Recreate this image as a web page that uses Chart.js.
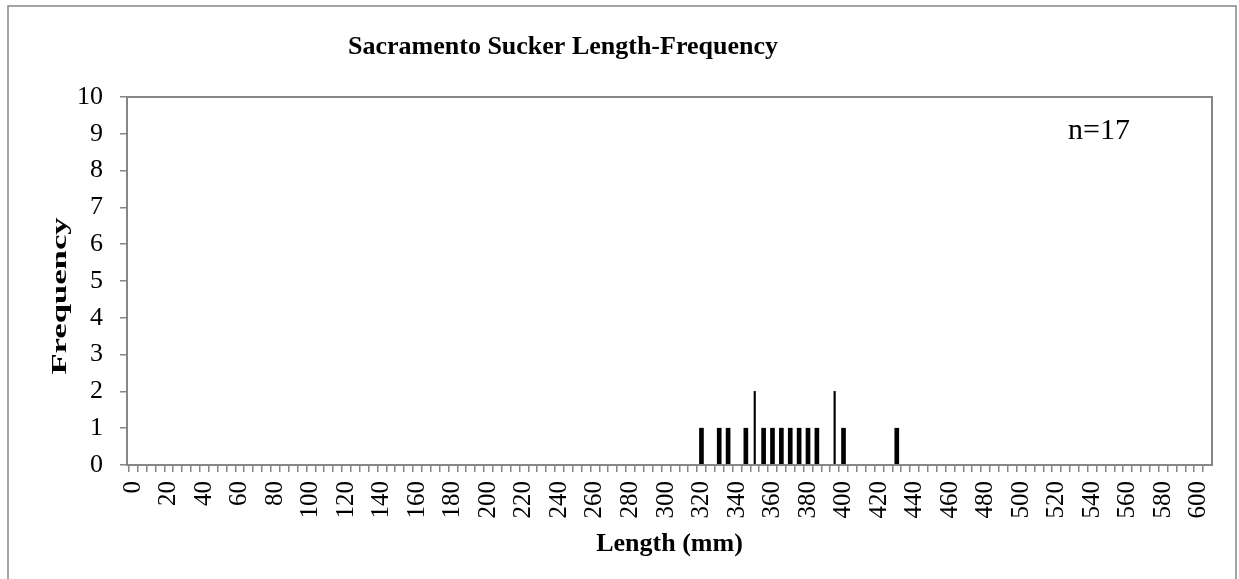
<!DOCTYPE html>
<html>
<head>
<meta charset="utf-8">
<script src="https://cdn.jsdelivr.net/npm/chart.js@4"></script>
<style>
  html, body { margin: 0; padding: 0; background: #fff; }
  #wrap { width: 1239px; height: 579px; position: relative; }
</style>
</head>
<body>
<div id="wrap"><canvas id="Chart" width="1239" height="579"></canvas></div>
<script>
// length bins (mm) and number of fish in each
var lengths = [320, 330, 335, 345, 350, 355, 360, 365, 370, 375, 380, 385, 395, 400, 430];
var counts  = [1,   1,   1,   1,   2,   1,   1,   1,   1,   1,   1,   1,   2,   1,   1];
var xLabelValues = [0, 20, 40, 60, 80, 100, 120, 140, 160, 180, 200, 220, 240, 260, 280, 300,
                    320, 340, 360, 380, 400, 420, 440, 460, 480, 500, 520, 540, 560, 580, 600];
var yLabelValues = [0, 1, 2, 3, 4, 5, 6, 7, 8, 9, 10];
var chartTitle = "Sacramento Sucker Length-Frequency";
var yTitle = "Frequency";
var sampleText = "n=17";

var axisGray = "#868686";
var serif = "'Liberation Serif', 'Times New Roman', serif";

// excel drew the 2-count bars thin, so keep them in their own dataset
var single = [], double = [];
for (var i = 0; i < lengths.length; i++) {
  if (counts[i] > 1) double.push({ x: lengths[i], y: counts[i] });
  else single.push({ x: lengths[i], y: counts[i] });
}

var boxPlugin = {
  id: "boxes",
  beforeDraw: (chart) => {
    var ctx = chart.ctx;
    ctx.save();
    ctx.strokeStyle = axisGray;
    ctx.lineWidth = 1.5;
    ctx.strokeRect(8, 6, 1228, 620);
    ctx.restore();
  },
  afterDraw: (chart) => {
    var ctx = chart.ctx, a = chart.chartArea;
    ctx.save();
    ctx.strokeStyle = axisGray;
    ctx.lineWidth = 2;
    ctx.strokeRect(a.left, a.top, a.right - a.left, a.bottom - a.top);
    ctx.fillStyle = "#000";
    ctx.textAlign = "center";
    ctx.textBaseline = "middle";
    // title (sits left of the plot centre in the original)
    ctx.font = "bold 26px " + serif;
    ctx.fillText(chartTitle, 563, 47);
    ctx.font = "30px " + serif;
    ctx.fillText(sampleText, 1099, 131);
    // rotated axis title, stretched along its length like the original
    ctx.translate(61, 296);
    ctx.rotate(-Math.PI / 2);
    ctx.scale(1.65, 1);
    ctx.font = "bold 21px " + serif;
    ctx.fillText(yTitle, 0, 0);
    ctx.restore();
  }
};

var ctx = document.getElementById("Chart");
var chart = new Chart(ctx, {
  type: "bar",
  data: {
    datasets: [{
      label: "Frequency",
      data: single,
      backgroundColor: "#000",
      barThickness: 4
    }, {
      label: "Frequency2",
      data: double,
      backgroundColor: "#000",
      barThickness: 1.5
    }]
  },
  options: {
    responsive: false,
    animation: false,
    grouped: false,
    layout: { padding: { left: 0, right: 27, top: 97, bottom: 0 } },
    plugins: {
      legend: { display: false },
      tooltip: { enabled: false },
      title: { display: false }
    },
    scales: {
      x: {
        type: "linear",
        min: -1,
        max: 605,
        afterBuildTicks: (scale) => {
          var t = [];
          for (var v = 0; v <= 600; v += 5) t.push({ value: v });
          scale.ticks = t;
        },
        afterFit: (scale) => { scale.height = 114; },
        ticks: {
          autoSkip: false,
          minRotation: 90,
          maxRotation: 90,
          padding: 9,
          color: "#000",
          font: { family: serif, size: 25 },
          callback: (v) => xLabelValues.indexOf(v) >= 0 ? String(v) : ""
        },
        grid: { drawOnChartArea: false, drawTicks: true, tickLength: 7, color: axisGray, lineWidth: 1.5 },
        border: { color: axisGray, width: 2 },
        title: {
          display: true,
          text: "Length (mm)",
          color: "#000",
          font: { family: serif, size: 26, weight: "bold" },
          padding: { top: 0, bottom: 19 }
        }
      },
      y: {
        min: 0,
        max: 10,
        afterBuildTicks: (scale) => {
          scale.ticks = yLabelValues.map((v) => ({ value: v }));
        },
        afterFit: (scale) => { scale.width = 127; },
        ticks: {
          stepSize: 1,
          padding: 17,
          color: "#000",
          font: { family: serif, size: 26 }
        },
        grid: { drawOnChartArea: false, drawTicks: true, tickLength: 7, color: axisGray, lineWidth: 1.5 },
        border: { color: axisGray, width: 2 }
      }
    }
  },
  plugins: [boxPlugin]
});
</script>
</body>
</html>
